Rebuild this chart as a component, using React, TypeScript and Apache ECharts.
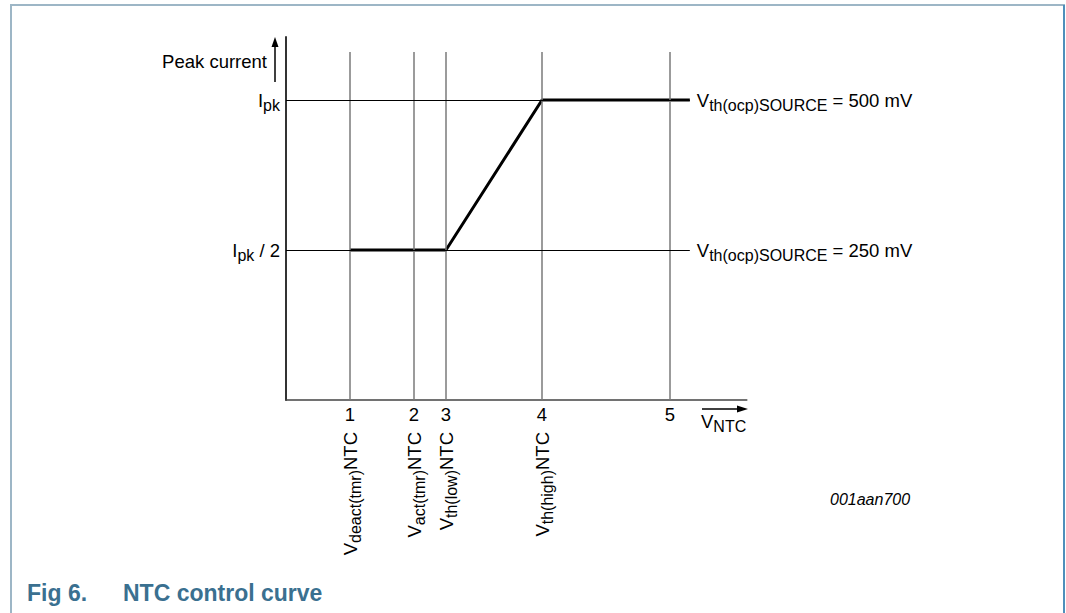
import React, { useEffect, useRef } from "react";
import * as echarts from "echarts";

// ---- data ----
const tickPositions = [1, 2, 2.5, 4, 6];
const tickLabels = ["1", "2", "3", "4", "5"];
const markerPositions = [1, 2, 2.5, 4];
const markerSubs = ["deact(tmr)", "act(tmr)", "th(low)", "th(high)"];
const curveX = [1, 2.5, 4, 6.31];
const curveY = [0.5, 0.5, 1, 1];
const levelValues = [0.5, 1];
const levelLeftLabels = ["{m|I}{s|pk}{m| / 2}", "{m|I}{s|pk}"];
const levelRightLabels = [
  "{m|V}{s|th(ocp)SOURCE}{m| = 250 mV}",
  "{m|V}{s|th(ocp)SOURCE}{m| = 500 mV}",
];
const gridTop = 1.16;
const levelEnd = 6.31;
const xMax = 7.2;
const yMax = 1.21;

const FONT = "Arial, 'Liberation Sans', Helvetica, sans-serif";

const rich = {
  m: { fontSize: 18.5, fontFamily: FONT, color: "#000", lineHeight: 26, verticalAlign: "middle" },
  s: { fontSize: 16, fontFamily: FONT, color: "#000", lineHeight: 26, verticalAlign: "bottom" },
};

export default function App() {
  const ref = useRef<HTMLDivElement>(null);
  useEffect(() => {
    if (!ref.current) return;
    const chart = echarts.init(ref.current, null, { renderer: "svg" });
    const option: any = {
      animation: false,
      backgroundColor: "#fff",
      grid: { left: 286, top: 37, right: 1066 - (286 + xMax * 64), bottom: 613 - 400, containLabel: false },
      xAxis: [
        {
          type: "value",
          min: 0,
          max: xMax,
          axisLine: { show: true, lineStyle: { color: "#444", width: 1.5 } },
          axisTick: { show: false },
          splitLine: { show: false },
          axisLabel: {
            customValues: tickPositions,
            margin: 5,
            fontSize: 18.5,
            fontFamily: FONT,
            color: "#000",
            formatter: (v: number) => {
              const i = tickPositions.findIndex((p) => Math.abs(p - v) < 1e-6);
              return i >= 0 ? tickLabels[i] : "";
            },
          },
        },
        {
          type: "value",
          min: 0,
          max: xMax,
          position: "bottom",
          axisLine: { show: false },
          axisTick: { show: false },
          splitLine: { show: false },
          axisLabel: {
            customValues: markerPositions,
            rotate: 90,
            margin: 32,
            rich,
            formatter: (v: number) => {
              const i = markerPositions.findIndex((p) => Math.abs(p - v) < 1e-6);
              return i >= 0 ? `{m|V}{s|${markerSubs[i]}}{m|NTC}` : "";
            },
          },
        },
      ],
      yAxis: {
        type: "value",
        min: 0,
        max: yMax,
        axisLine: { show: true, lineStyle: { color: "#333", width: 2 } },
        axisTick: { show: false },
        splitLine: { show: false },
        axisLabel: {
          customValues: levelValues,
          margin: 6,
          rich,
          formatter: (v: number) => {
            const i = levelValues.findIndex((p) => Math.abs(p - v) < 1e-6);
            return i >= 0 ? levelLeftLabels[i] : "";
          },
        },
      },
      series: [
        {
          type: "line",
          data: [],
          silent: true,
          markLine: {
            silent: true,
            symbol: ["none", "none"],
            label: { show: false },
            lineStyle: { color: "#7a7a7a", width: 1.5, type: "solid" },
            data: tickPositions.map((p) => [{ coord: [p, 0] }, { coord: [p, gridTop] }]),
          },
          z: 1,
        },
        {
          type: "line",
          data: [],
          silent: true,
          markLine: {
            silent: true,
            symbol: ["none", "none"],
            lineStyle: { color: "#000", width: 1, type: "solid" },
            data: levelValues.map((lv, i) => [
              {
                coord: [0, lv],
                label: {
                  show: true,
                  position: "end",
                  distance: 7,
                  rich,
                  formatter: () => levelRightLabels[i],
                },
              },
              { coord: [levelEnd, lv] },
            ]),
          },
          z: 2,
        },
        {
          type: "line",
          data: curveX.map((x, i) => [x, curveY[i]]),
          symbol: "none",
          silent: true,
          lineStyle: { color: "#000", width: 3 },
          z: 3,
        },
      ],
      graphic: [
        { type: "line", shape: { x1: 11, y1: 5, x2: 11, y2: 613 }, style: { stroke: "#9db6c6", lineWidth: 2 } },
        { type: "line", shape: { x1: 10, y1: 5, x2: 1065, y2: 5 }, style: { stroke: "#9db6c6", lineWidth: 2 } },
        { type: "line", shape: { x1: 1064, y1: 5, x2: 1064, y2: 613 }, style: { stroke: "#4f8fbb", lineWidth: 2 } },
        {
          type: "text",
          x: 267,
          y: 61,
          style: { text: "Peak current", fontSize: 18.5, fontFamily: FONT, fill: "#000", align: "right", verticalAlign: "middle" },
        },
        { type: "line", shape: { x1: 275, y1: 82, x2: 275, y2: 44 }, style: { stroke: "#000", lineWidth: 1.5 } },
        { type: "polygon", shape: { points: [[271.5, 47], [278.5, 47], [275, 37]] }, style: { fill: "#000" } },
        { type: "line", shape: { x1: 702, y1: 409, x2: 740, y2: 409 }, style: { stroke: "#000", lineWidth: 1.5 } },
        { type: "polygon", shape: { points: [[737, 405.5], [737, 412.5], [748, 409]] }, style: { fill: "#000" } },
        {
          type: "text",
          x: 701,
          y: 421,
          style: {
            text: "{m|V}{n|NTC}",
            rich: {
              m: { fontSize: 18.5, fontFamily: FONT, fill: "#000", lineHeight: 26, verticalAlign: "middle" },
              n: { fontSize: 16, fontFamily: FONT, fill: "#000", lineHeight: 26, verticalAlign: "bottom" },
            },
            align: "left",
            verticalAlign: "middle",
          },
        },
        {
          type: "text",
          x: 830,
          y: 499,
          style: { text: "001aan700", fontSize: 16, fontStyle: "italic", fontFamily: FONT, fill: "#000", align: "left", verticalAlign: "middle" },
        },
        {
          type: "text",
          x: 27,
          y: 593,
          style: { text: "Fig 6.", fontSize: 23, fontWeight: "bold", fontFamily: FONT, fill: "#3a7090", align: "left", verticalAlign: "middle" },
        },
        {
          type: "text",
          x: 123,
          y: 593,
          style: { text: "NTC control curve", fontSize: 23, fontWeight: "bold", fontFamily: FONT, fill: "#3a7090", align: "left", verticalAlign: "middle" },
        },
      ],
    };
    chart.setOption(option);
    return () => chart.dispose();
  }, []);
  return (
    <div
      ref={ref}
      style={{ position: "fixed", left: 0, top: 0, width: 1066, height: 613, background: "#fff" }}
    />
  );
}
